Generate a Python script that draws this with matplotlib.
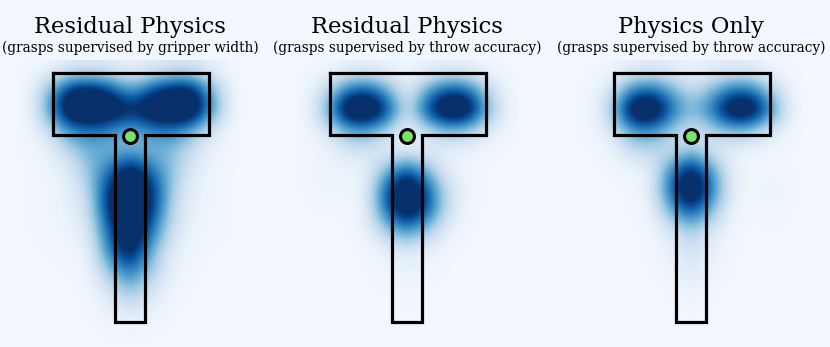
import numpy as np
import matplotlib
matplotlib.use("Agg")
import matplotlib.pyplot as plt

# panel titles
titles = ["Residual Physics", "Residual Physics", "Physics Only"]
subtitles = ["(grasps supervised by gripper width)",
             "(grasps supervised by throw accuracy)",
             "(grasps supervised by throw accuracy)"]

# grasp density, rows top->bottom, cols left->right (coarse grid)
density_gripper = [
    [0.02, 0.03, 0.07, 0.09, 0.07, 0.04, 0.07, 0.09, 0.11, 0.05, 0.02],
    [0.02, 0.30, 0.75, 0.80, 0.65, 0.35, 0.60, 0.80, 0.80, 0.35, 0.02],
    [0.02, 0.40, 0.95, 1.00, 0.90, 0.75, 0.90, 0.95, 1.00, 0.45, 0.02],
    [0.02, 0.15, 0.45, 0.50, 0.45, 0.30, 0.45, 0.50, 0.35, 0.10, 0.02],
    [0.02, 0.05, 0.20, 0.35, 0.30, 0.30, 0.30, 0.30, 0.15, 0.05, 0.02],
    [0.02, 0.04, 0.08, 0.30, 0.50, 0.85, 0.50, 0.30, 0.10, 0.03, 0.02],
    [0.02, 0.03, 0.05, 0.20, 0.75, 0.95, 0.75, 0.25, 0.05, 0.03, 0.02],
    [0.02, 0.03, 0.05, 0.15, 0.75, 1.00, 0.70, 0.20, 0.05, 0.03, 0.02],
    [0.02, 0.03, 0.03, 0.10, 0.60, 0.95, 0.55, 0.15, 0.03, 0.03, 0.02],
    [0.02, 0.02, 0.03, 0.05, 0.50, 0.85, 0.35, 0.08, 0.03, 0.02, 0.02],
    [0.02, 0.02, 0.02, 0.03, 0.30, 0.55, 0.25, 0.05, 0.02, 0.02, 0.02],
    [0.02, 0.02, 0.02, 0.02, 0.12, 0.30, 0.12, 0.03, 0.02, 0.02, 0.02],
    [0.02, 0.02, 0.02, 0.02, 0.05, 0.12, 0.05, 0.02, 0.02, 0.02, 0.02],
    [0.02, 0.02, 0.02, 0.02, 0.02, 0.02, 0.02, 0.02, 0.02, 0.02, 0.02],
]
density_throw = [
    [0.02, 0.02, 0.04, 0.05, 0.04, 0.02, 0.04, 0.05, 0.04, 0.02, 0.02],
    [0.02, 0.15, 0.50, 0.60, 0.35, 0.05, 0.35, 0.60, 0.55, 0.20, 0.02],
    [0.02, 0.30, 0.95, 1.00, 0.70, 0.08, 0.65, 1.00, 0.95, 0.35, 0.03],
    [0.02, 0.10, 0.35, 0.40, 0.20, 0.03, 0.15, 0.30, 0.25, 0.08, 0.02],
    [0.02, 0.03, 0.10, 0.12, 0.05, 0.04, 0.05, 0.05, 0.03, 0.02, 0.02],
    [0.02, 0.05, 0.03, 0.05, 0.30, 0.60, 0.30, 0.05, 0.03, 0.02, 0.02],
    [0.02, 0.04, 0.03, 0.05, 0.60, 1.00, 0.60, 0.15, 0.03, 0.02, 0.02],
    [0.02, 0.02, 0.02, 0.05, 0.55, 0.90, 0.60, 0.15, 0.02, 0.02, 0.02],
    [0.02, 0.02, 0.02, 0.03, 0.25, 0.45, 0.25, 0.05, 0.02, 0.02, 0.02],
    [0.02, 0.02, 0.02, 0.02, 0.05, 0.10, 0.05, 0.02, 0.02, 0.02, 0.02],
    [0.02, 0.02, 0.02, 0.02, 0.03, 0.05, 0.03, 0.02, 0.02, 0.02, 0.02],
    [0.02, 0.02, 0.02, 0.02, 0.02, 0.03, 0.02, 0.02, 0.02, 0.02, 0.02],
    [0.02, 0.02, 0.02, 0.02, 0.02, 0.02, 0.02, 0.02, 0.02, 0.02, 0.02],
    [0.02, 0.02, 0.02, 0.02, 0.02, 0.02, 0.02, 0.02, 0.02, 0.02, 0.02],
]
density_physics = [
    [0.02, 0.02, 0.05, 0.07, 0.06, 0.03, 0.06, 0.07, 0.06, 0.02, 0.02],
    [0.02, 0.10, 0.45, 0.55, 0.35, 0.15, 0.30, 0.50, 0.50, 0.20, 0.02],
    [0.02, 0.20, 0.90, 1.00, 0.55, 0.30, 0.50, 0.95, 0.95, 0.45, 0.02],
    [0.02, 0.08, 0.40, 0.45, 0.25, 0.10, 0.20, 0.30, 0.25, 0.08, 0.02],
    [0.02, 0.03, 0.15, 0.20, 0.10, 0.25, 0.08, 0.05, 0.02, 0.02, 0.02],
    [0.02, 0.02, 0.03, 0.05, 0.45, 0.80, 0.40, 0.05, 0.02, 0.03, 0.02],
    [0.02, 0.02, 0.02, 0.05, 0.55, 1.00, 0.50, 0.05, 0.02, 0.05, 0.02],
    [0.02, 0.02, 0.02, 0.03, 0.35, 0.65, 0.30, 0.03, 0.02, 0.03, 0.02],
    [0.02, 0.02, 0.02, 0.02, 0.10, 0.25, 0.10, 0.02, 0.02, 0.02, 0.02],
    [0.02, 0.02, 0.02, 0.02, 0.05, 0.15, 0.05, 0.02, 0.02, 0.02, 0.02],
    [0.02, 0.02, 0.02, 0.02, 0.03, 0.10, 0.03, 0.02, 0.02, 0.02, 0.02],
    [0.02, 0.02, 0.02, 0.02, 0.02, 0.05, 0.02, 0.02, 0.02, 0.02, 0.02],
    [0.02, 0.02, 0.02, 0.02, 0.02, 0.02, 0.02, 0.02, 0.02, 0.02, 0.02],
    [0.02, 0.02, 0.02, 0.02, 0.02, 0.02, 0.02, 0.02, 0.02, 0.02, 0.02],
]
densities = [density_gripper, density_throw, density_physics]

# layout in pixel units
centers = [130, 407, 691]
bar_l, bar_r, bar_t, bar_b = -77, 79, 72.5, 135
stem_l, stem_r, stem_b = -15, 15, 321.5

vmax = 0.68
bg = matplotlib.colormaps["Blues"](0.02 / vmax)

fig = plt.figure(figsize=(8.3, 3.47), dpi=100, facecolor=bg)
ax = fig.add_axes([0, 0, 1, 1])
ax.set_facecolor(bg)

for cx, dens, title, sub in zip(centers, densities, titles, subtitles):
    ax.imshow(np.array(dens), cmap="Blues", vmin=0, vmax=vmax,
              interpolation="bicubic", origin="upper",
              extent=(cx - 110, cx + 110, 340, 60), zorder=1)
    tx = [cx + bar_l, cx + bar_r, cx + bar_r, cx + stem_r, cx + stem_r,
          cx + stem_l, cx + stem_l, cx + bar_l, cx + bar_l]
    ty = [bar_t, bar_t, bar_b, bar_b, stem_b, stem_b, bar_b, bar_b, bar_t]
    ax.plot(tx, ty, color="black", lw=2.3, solid_joinstyle="miter", zorder=3)
    ax.plot([cx], [bar_b + 1], "o", ms=10, mfc="#7be36b", mec="black",
            mew=2.2, zorder=4)
    ax.text(cx, 33, title, ha="center", va="baseline", fontsize=16.3,
            family="DejaVu Serif", zorder=5)
    ax.text(cx, 52, sub, ha="center", va="baseline", fontsize=9.8,
            family="DejaVu Serif", zorder=5)

ax.set_xlim(0, 830)
ax.set_ylim(347, 0)
ax.axis("off")
fig.savefig("out.png", dpi=100, facecolor=fig.get_facecolor())
